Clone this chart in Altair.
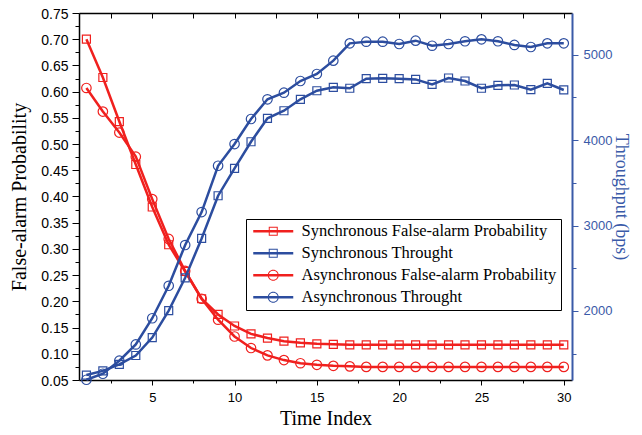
import altair as alt
import pandas as pd

# ---------------- data ----------------
time_index = list(range(1, 31))
sync_fa = [0.700, 0.627, 0.543, 0.461, 0.380, 0.308, 0.257, 0.205, 0.175, 0.153,
           0.138, 0.130, 0.124, 0.121, 0.119, 0.118, 0.117, 0.117, 0.117, 0.117,
           0.117, 0.117, 0.117, 0.117, 0.117, 0.117, 0.117, 0.117, 0.117, 0.117]
async_fa = [0.607, 0.562, 0.522, 0.476, 0.395, 0.319, 0.258, 0.205, 0.165, 0.133,
            0.111, 0.097, 0.088, 0.082, 0.079, 0.077, 0.076, 0.075, 0.075, 0.075,
            0.075, 0.075, 0.075, 0.075, 0.075, 0.075, 0.075, 0.075, 0.075, 0.075]
sync_thr = [1250, 1299, 1375, 1479, 1689, 2005, 2388, 2849, 3349, 3670,
            3981, 4255, 4344, 4478, 4578, 4618, 4607, 4719, 4723, 4719,
            4711, 4653, 4727, 4692, 4607, 4641, 4645, 4590, 4665, 4587]
async_thr = [1195, 1265, 1418, 1608, 1915, 2295, 2772, 3158, 3700, 3954,
             4247, 4478, 4555, 4692, 4774, 4930, 5133, 5152, 5152, 5125,
             5164, 5105, 5125, 5157, 5180, 5157, 5114, 5090, 5133, 5133]

series_names = ["Synchronous False-alarm Probability", "Synchronous Throught",
                "Asynchronous False-alarm Probability", "Asynchronous Throught"]

x_major = [5, 10, 15, 20, 25, 30]
x_minor = [2.5, 7.5, 12.5, 17.5, 22.5, 27.5]
x_top = [2.5, 5, 7.5, 10, 12.5, 15, 17.5, 20, 22.5, 25, 27.5, 30]
fa_major = [round(0.05 + 0.05 * i, 2) for i in range(15)]
fa_minor = [round(0.075 + 0.05 * i, 3) for i in range(14)]
thr_major = [2000, 3000, 4000, 5000]
thr_minor = [1500, 2500, 3500, 4500]

# ---------------- style ----------------
RED = "#f0201e"
BLUE = "#2c4d9f"
AXBLUE = "#3a5aa8"
W, H = 493, 367
X_DOM = [0.55, 30.5]
FA_DOM = [0.05, 0.75]
THR_DOM = [1192, 5488]
SANS = "Liberation Sans"
SERIF = "Liberation Serif"

df = pd.DataFrame({
    "t": time_index,
    "sync_fa": sync_fa, "async_fa": async_fa,
    "sync_thr": sync_thr, "async_thr": async_thr,
})


def xenc(axis=None):
    return alt.X("t:Q", scale=alt.Scale(domain=X_DOM, nice=False, zero=False), axis=axis)


def yenc(field, dom, axis=None):
    return alt.Y(f"{field}:Q", scale=alt.Scale(domain=dom, nice=False, zero=False), axis=axis)


base = alt.Chart(df)

x_major_axis = alt.Axis(values=x_major, title="Time Index", orient="bottom", grid=False,
                        tickSize=5, tickColor="black", domainColor="black", domainWidth=1.5,
                        labelFont=SANS, labelFontSize=13, labelColor="black", labelPadding=6,
                        titleFont=SERIF, titleFontSize=20, titleFontWeight="normal",
                        titleColor="black", titlePadding=4, labelFlush=False)
x_minor_axis = alt.Axis(values=x_minor, title=None, orient="bottom", grid=False, labels=False,
                        domain=False, tickSize=3, tickColor="black")
x_top_axis = alt.Axis(values=x_top, title=None, orient="bottom", offset=-H, grid=False,
                      labels=False, domain=True, domainColor="black", domainWidth=1.5,
                      tickSize=5, tickColor="black")

fa_major_axis = alt.Axis(values=fa_major, format=".2f", title="False-alarm Probability",
                         orient="left", grid=False, tickSize=7, tickColor="black",
                         domainColor="black", domainWidth=1.5, labelFont=SANS,
                         labelFontSize=14, labelColor="black", labelPadding=4,
                         labelOffset=1,
                         titleFont=SERIF, titleFontSize=20, titleFontWeight="normal",
                         titleColor="black", titlePadding=11, labelFlush=False)
fa_minor_axis = alt.Axis(values=fa_minor, title=None, orient="left", grid=False, labels=False,
                         domain=False, tickSize=4, tickColor="black")

thr_major_axis = alt.Axis(values=thr_major, format="d", title="Throughput (bps)",
                          orient="right", grid=False, tickSize=6, tickColor=AXBLUE,
                          domainColor=AXBLUE, domainWidth=2, labelFont=SANS,
                          labelFontSize=13, labelColor=AXBLUE, labelPadding=5,
                          titleFont=SERIF, titleFontSize=18, titleFontWeight="normal",
                          titleColor=AXBLUE, titlePadding=0, titleAngle=90,
                          labelFlush=False)
thr_minor_axis = alt.Axis(values=thr_minor, title=None, orient="right", grid=False,
                          labels=False, domain=False, tickSize=4, tickColor=AXBLUE)

LW = 2.5
SQ = 64
CI = 90
MW = 1.2

sync_fa_line = base.mark_line(color=RED, strokeWidth=LW).encode(
    x=xenc(x_major_axis), y=yenc("sync_fa", FA_DOM, fa_major_axis))
sync_fa_pts = base.mark_point(shape="square", filled=False, color=RED, size=SQ,
                              strokeWidth=MW, opacity=1).encode(
    x=xenc(x_minor_axis), y=yenc("sync_fa", FA_DOM, fa_minor_axis))
sync_thr_line = base.mark_line(color=BLUE, strokeWidth=LW).encode(
    x=xenc(), y=yenc("sync_thr", THR_DOM, thr_major_axis))
sync_thr_pts = base.mark_point(shape="square", filled=False, color=BLUE, size=SQ,
                               strokeWidth=MW, opacity=1).encode(
    x=xenc(), y=yenc("sync_thr", THR_DOM, thr_minor_axis))
async_fa_line = base.mark_line(color=RED, strokeWidth=LW).encode(
    x=xenc(x_top_axis), y=yenc("async_fa", FA_DOM))
async_fa_pts = base.mark_point(shape="circle", filled=False, color=RED, size=CI,
                               strokeWidth=MW, opacity=1).encode(
    x=xenc(), y=yenc("async_fa", FA_DOM))
async_thr_line = base.mark_line(color=BLUE, strokeWidth=LW).encode(
    x=xenc(), y=yenc("async_thr", THR_DOM))
async_thr_pts = base.mark_point(shape="circle", filled=False, color=BLUE, size=CI,
                                strokeWidth=MW, opacity=1).encode(
    x=xenc(), y=yenc("async_thr", THR_DOM))

# legend symbols: line segment with marker ring (unit = 5px)
SQ_PATH = ("M-1,-0.25H7V0.25H-1Z"
           "M2.1,-0.9H3.9V0.9H2.1Z"
           "M2.3,-0.7V0.7H3.7V-0.7Z")
CI_PATH = ("M-1,-0.25H7V0.25H-1Z"
           "M4.1,0A1.1,1.1 0 1,1 1.9,0A1.1,1.1 0 1,1 4.1,0Z"
           "M3.9,0A0.9,0.9 0 1,0 2.1,0A0.9,0.9 0 1,0 3.9,0Z")

legend_cfg = dict(title=None, orient="none", legendX=167, legendY=206,
                  padding=4, strokeColor="black", fillColor="white",
                  labelFont=SERIF, labelFontSize=16.5, labelColor="black",
                  rowPadding=5, labelOffset=35, symbolSize=100,
                  symbolStrokeWidth=0, labelLimit=400)

leg_df = pd.DataFrame({"series": series_names, "t": [1, 1, 1, 1], "v": [0.5] * 4})
legend_layer = alt.Chart(leg_df).transform_filter("datum.t > 100").mark_point(
    filled=True, size=100, opacity=1).encode(
    x=xenc(),
    y=yenc("v", FA_DOM),
    color=alt.Color("series:N", scale=alt.Scale(domain=series_names,
                                                 range=[RED, BLUE, RED, BLUE]),
                    legend=alt.Legend(**legend_cfg)),
    shape=alt.Shape("series:N", scale=alt.Scale(domain=series_names,
                                                 range=[SQ_PATH, SQ_PATH, CI_PATH, CI_PATH]),
                    legend=alt.Legend(**legend_cfg)),
)

chart = alt.layer(
    sync_fa_line, sync_fa_pts, async_fa_line, async_fa_pts,
    sync_thr_line, sync_thr_pts, async_thr_line, async_thr_pts,
    legend_layer,
).resolve_scale(
    y="independent"
).resolve_axis(
    x="independent", y="independent"
).properties(
    width=W, height=H,
    autosize=alt.AutoSizeParams(type="none"),
    padding={"left": 71, "top": 5, "right": 62, "bottom": 47},
).configure_view(
    stroke=None
).configure(background="white")

chart.save("out.html", embed_options={"renderer": "svg", "actions": False})
